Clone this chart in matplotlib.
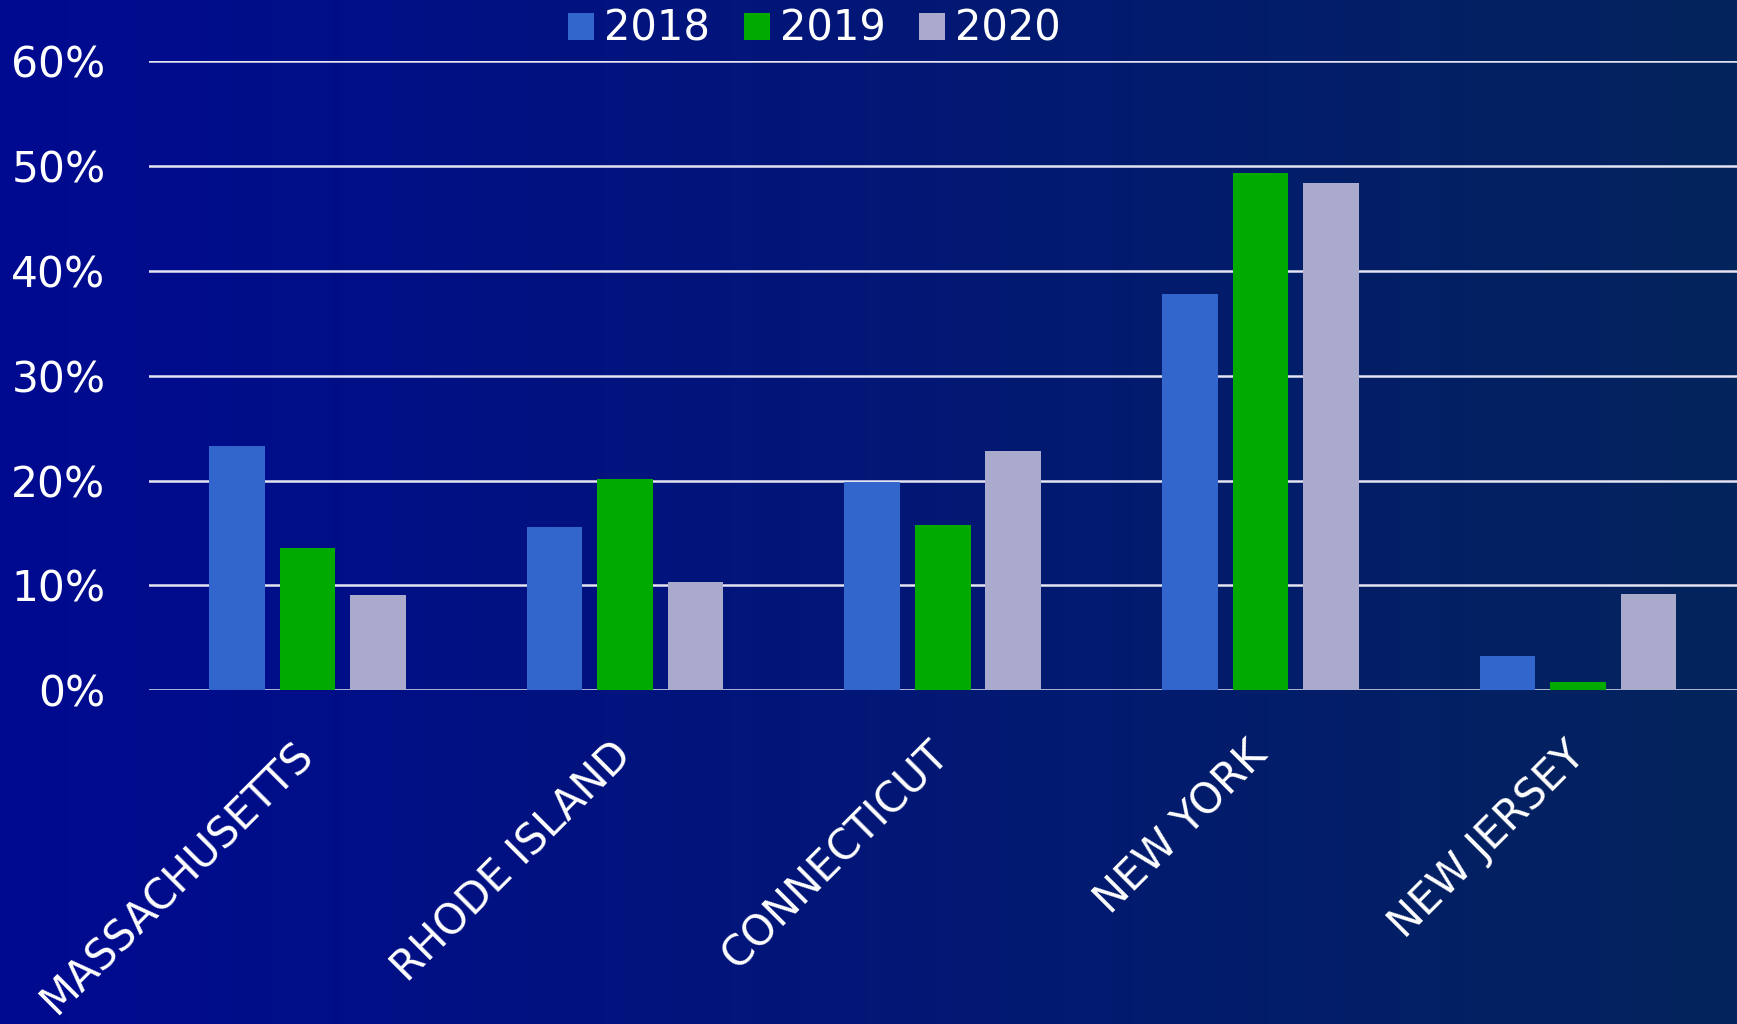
import matplotlib
matplotlib.use('Agg')
import matplotlib.pyplot as plt
import numpy as np

states = ['MASSACHUSETTS', 'RHODE ISLAND', 'CONNECTICUT', 'NEW YORK', 'NEW JERSEY']
years = ['2018', '2019', '2020']
v2018 = [23.3, 15.6, 19.9, 37.8, 3.3]
v2019 = [13.6, 20.2, 15.8, 49.4, 0.75]
v2020 = [9.05, 10.3, 22.8, 48.4, 9.2]
colors = ['#3366CC', '#00AA00', '#AAAACC']

plt.rcParams['font.family'] = ['DejaVu Sans']

fig = plt.figure(figsize=(17.37, 10.24), dpi=100)

# background gradient, left to right
bg = fig.add_axes([0, 0, 1, 1], zorder=-10)
left = np.array([0, 10, 145]) / 255
right = np.array([4, 36, 92]) / 255
t = np.linspace(0, 1, 256)
grad = (left[None, :] * (1 - t[:, None]) + right[None, :] * t[:, None])[None, :, :]
bg.imshow(grad, aspect='auto', extent=[0, 1, 0, 1])
bg.axis('off')

ax = fig.add_axes([0.0855, 0.326, 0.9145, 0.614])
ax.patch.set_alpha(0)

x = np.arange(len(states))
w = 0.175
step = 0.222
for i, (vals, c, yr) in enumerate(zip([v2018, v2019, v2020], colors, years)):
    ax.bar(x + (i - 1) * step, vals, w, color=c, label=yr, zorder=3)

ax.set_xlim(-0.5, 4.5)
ax.set_ylim(0, 60)
ax.set_yticks(np.arange(0, 61, 10))
ax.set_yticklabels([f'{v}%' for v in range(0, 61, 10)], fontsize=30.5, color='white')
ax.yaxis.grid(True, color='#E4E4F2', lw=1.8, zorder=1)
ax.tick_params(axis='y', length=0, pad=31)
ax.tick_params(axis='x', length=0, pad=42)
ax.set_xticks(x)
ax.set_xticklabels(states, rotation=45, ha='right', va='center', rotation_mode='anchor',
                   fontsize=30, color='white')
for s in ax.spines.values():
    s.set_visible(False)

leg = fig.legend(loc='center', bbox_to_anchor=(0.469, 0.972), ncol=3, frameon=False,
                 fontsize=30, labelcolor='white', handlelength=0.62, handleheight=0.62,
                 handletextpad=0.25, columnspacing=0.8)

fig.savefig('out.png', dpi=100)
